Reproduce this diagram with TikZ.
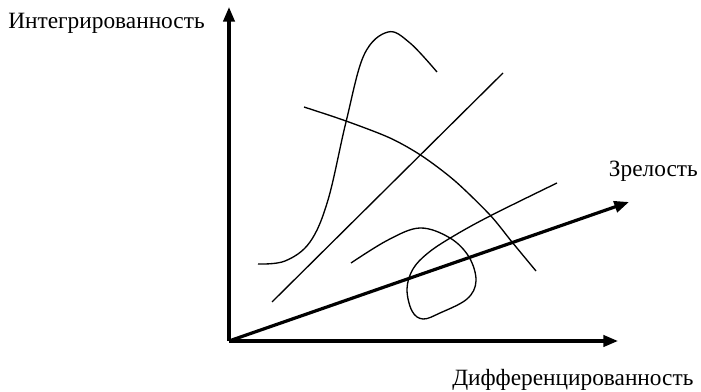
\documentclass[tikz,border=0pt]{standalone}
\usepackage{fontspec}
\setmainfont{Liberation Serif}
\usetikzlibrary{arrows.meta}

\begin{document}
\begin{tikzpicture}[
    x=0.75pt, y=-0.75pt,
    axis/.style={line width=2.4pt, -{Triangle[length=11pt, width=8.5pt]}},
    curve/.style={line width=1pt},
    label_node/.style={font=\fontsize{17.5}{20}\selectfont, inner sep=0pt}
]
    \useasboundingbox (0,0) rectangle (701,392);
        \coordinate (O) at (229,341);
        \node[label_node, anchor=base west] (I) at (8,29) {Интегрированность};
        \node[label_node, anchor=base east] (Z) at (698,177) {Зрелость};
        \node[label_node, anchor=base west] (D) at (452,386) {Дифференцированность};
        \coordinate (Itip) at (229,7);
        \coordinate (Dtip) at (618,341);
        \coordinate (Ztip) at (629,202);
    \draw [axis] (O) -- (Itip);
    \draw [axis] (O) -- (Dtip);
    \draw [axis] (O) -- (Ztip);

    % curves
    \draw [curve] plot[smooth, tension=0.6] coordinates {(258,264) (285,261) (310,242) (328,200) (346,122) (364,55) (388,32) (410,43) (437,72)};
    \draw [curve] (272,302) -- (503,73);
    \draw [curve] plot[smooth] coordinates {(304,107) (346,121) (390,138) (422,156) (455,181) (490,215) (512,242) (536,271)};
    \draw [curve] plot[smooth, tension=0.6] coordinates {(351,263) (388,240) (420,228) (450,238) (469,257) (476,281) (467,299) (440,313) (423,319) (412,311) (407,289) (413,269) (428,253) (452,237) (490,216) (557,183)};
    \end{tikzpicture}
\end{document}
